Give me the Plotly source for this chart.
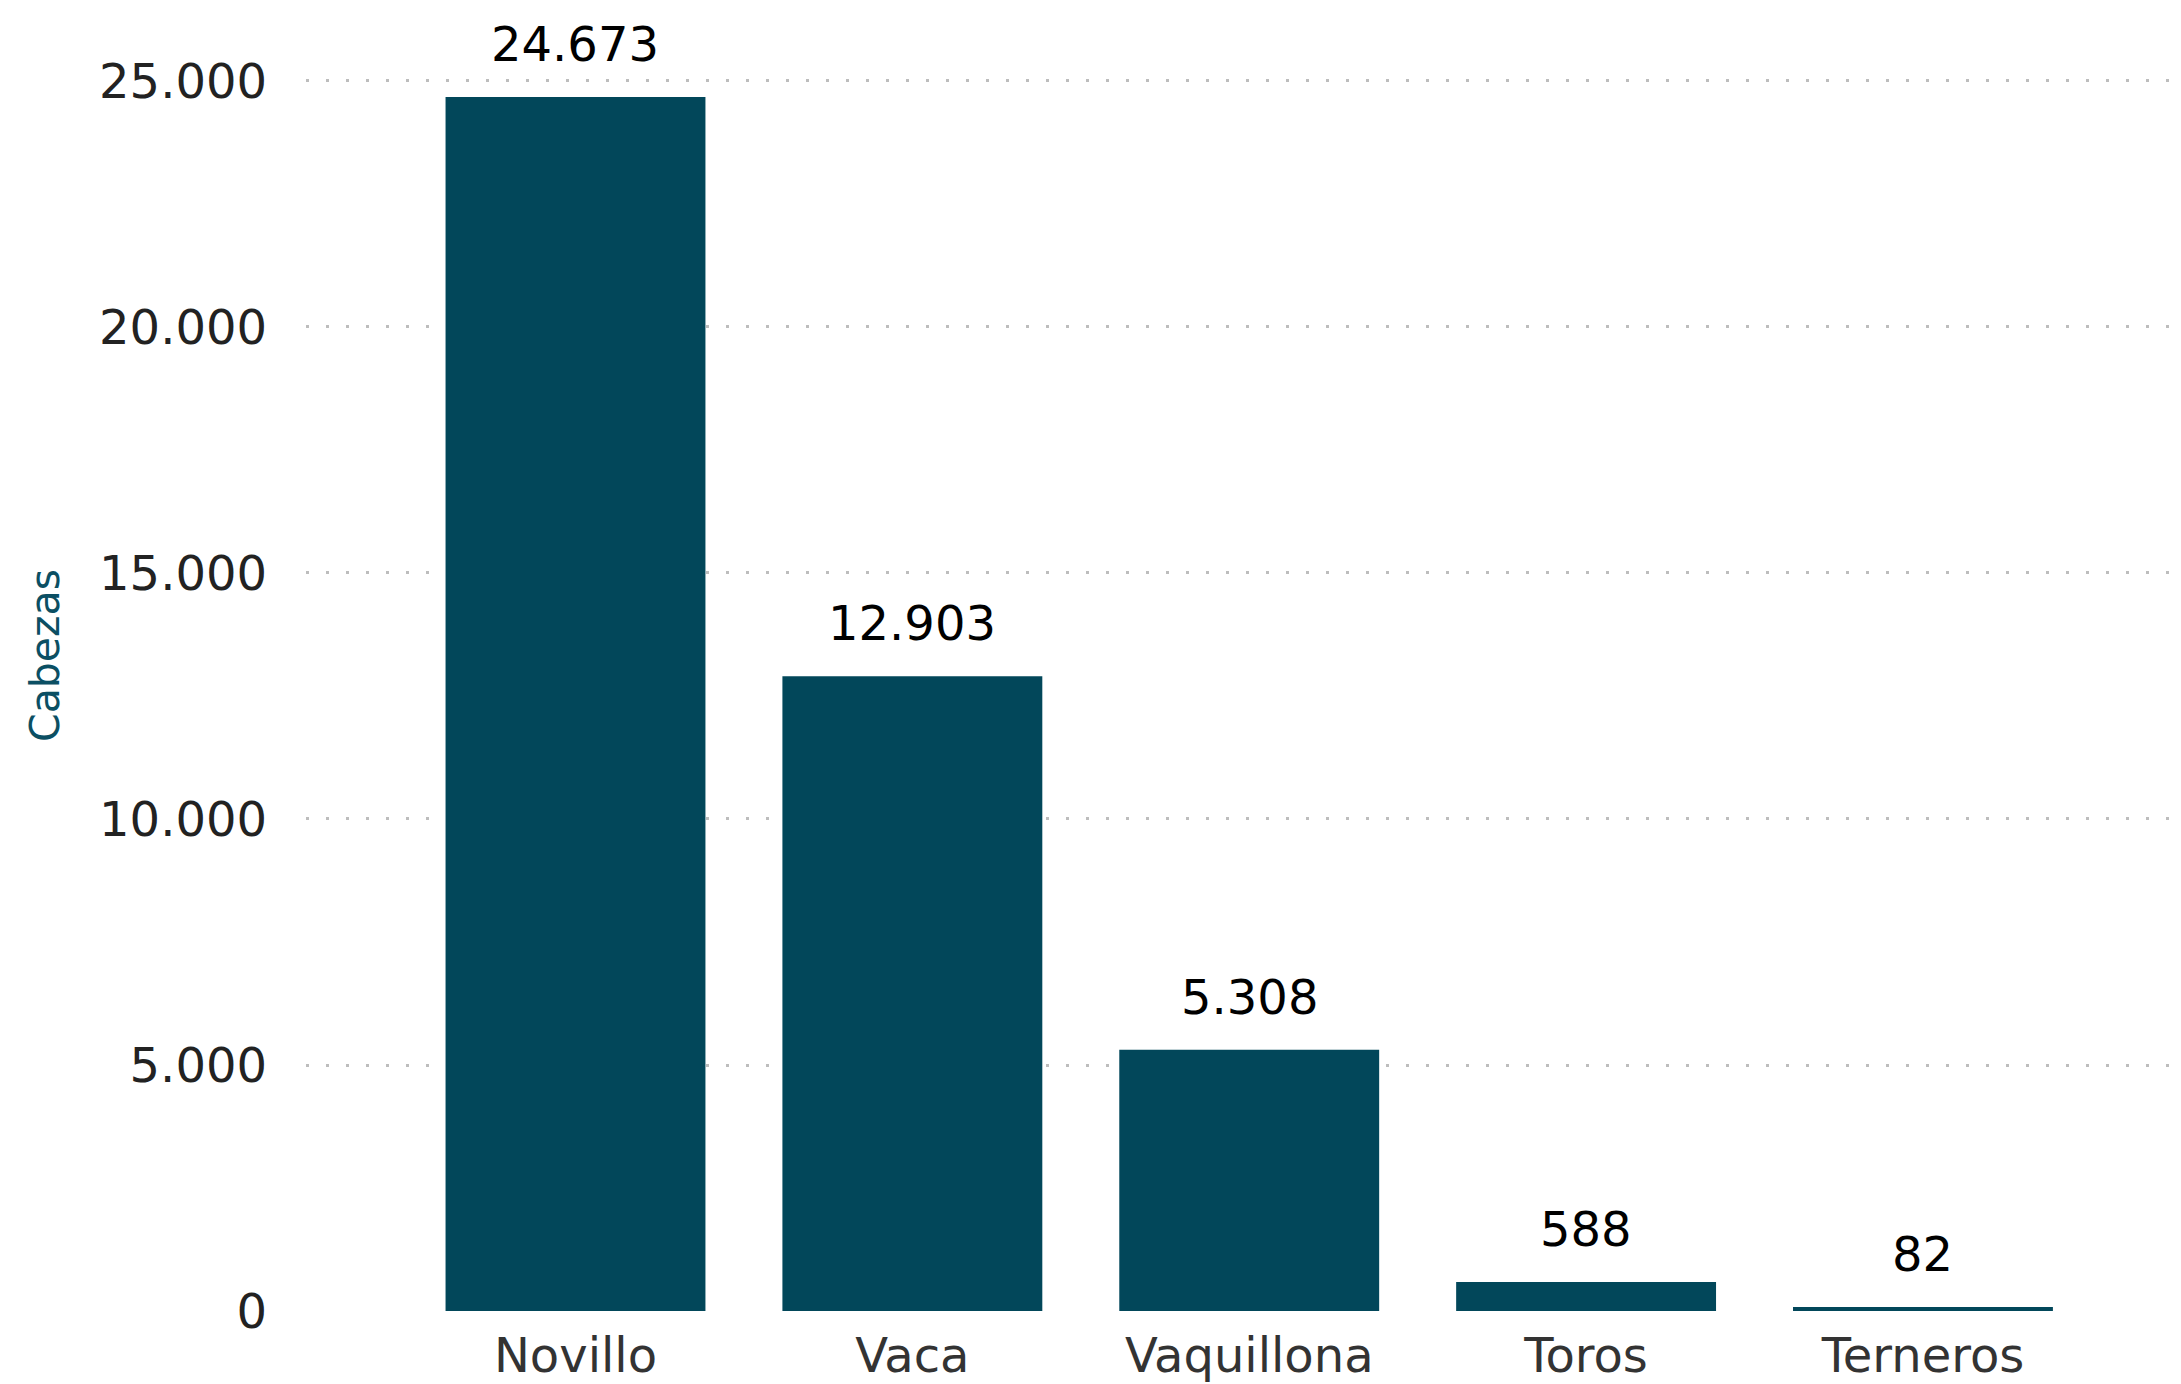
import plotly.graph_objects as go

# Datos
categorias = ['Novillo', 'Vaca', 'Vaquillona', 'Toros', 'Terneros']
cabezas = [24673, 12903, 5308, 588, 82]
y_ticks = [0, 5000, 10000, 15000, 20000, 25000]

color_barra = '#02475A'
fuente = 'DejaVu Sans'

fig = go.Figure()
fig.add_trace(go.Bar(x=categorias, y=cabezas, marker_color=color_barra,
                     marker_line_width=0, hoverinfo='skip'))

# etiquetas de valor sobre cada barra
for cat, v in zip(categorias, cabezas):
    fig.add_annotation(x=cat, y=v, text=f'{v:,}'.replace(',', '.'),
                       showarrow=False, yanchor='middle', yshift=53,
                       font=dict(family=fuente, size=48, color='#000000'))

fig.update_layout(
    width=2181, height=1384,
    margin=dict(l=306, r=0, t=0, b=73),
    plot_bgcolor='white', paper_bgcolor='white',
    bargap=0.2285,
    separators=',.',
    showlegend=False,
    font=dict(family=fuente),
)
fig.update_xaxes(range=[-0.8, 4.766], showgrid=False, showline=False,
                 ticks='', ticklabelstandoff=12,
                 tickfont=dict(family=fuente, size=48, color='#333333'))
fig.update_yaxes(range=[0, 26646], tickvals=y_ticks, tickformat=',d',
                 showgrid=True, gridcolor='#bdbdbd', gridwidth=3,
                 griddash='3px,17px', zeroline=False, showline=False,
                 ticks='', ticklabelstandoff=38,
                 tickfont=dict(family=fuente, size=48, color='#222222'),
                 title=dict(text='Cabezas', standoff=26,
                            font=dict(family=fuente, size=41, color='#0B4F63')))

# sin margen del body para que el gráfico ocupe la ventana completa
fig.write_html('out.html', config={'displayModeBar': False},
               post_script="document.body.style.margin='0';")
